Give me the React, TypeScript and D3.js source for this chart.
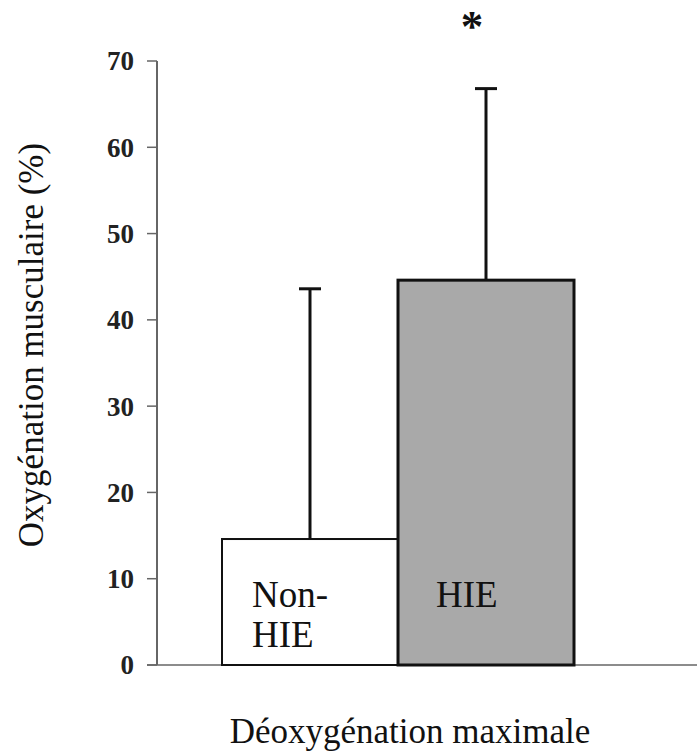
import React from "react";
import * as d3 from "d3";

const categories = ["Non-HIE", "HIE"];
const meanValues = [14.6, 44.6];
const sdValues = [29.0, 22.2];
const barFills = ["#ffffff", "#a9a9a9"];
const barLabels = [["Non-", "HIE"], ["HIE"]];
const yTicks = [0, 10, 20, 30, 40, 50, 60, 70];

const W = 697;
const H = 753;
const SERIF = "Liberation Serif";

export default function App() {
  const y = d3.scaleLinear().domain([0, 70]).range([665, 61]);
  const x = d3.scaleBand().domain(categories).range([222, 574]).padding(0);
  const axisX = 157;
  const ts = { fontFamily: SERIF } as React.CSSProperties;

  return (
    <svg
      width={W}
      height={H}
      style={{ position: "absolute", left: 0, top: 0, background: "#fff" }}
    >
      <line x1={147} x2={697} y1={y(0)} y2={y(0)} stroke="#666" strokeWidth={1.5} />
      <line x1={axisX} x2={axisX} y1={y(70)} y2={y(0)} stroke="#666" strokeWidth={2} />
      {yTicks.map((t) => (
        <g key={t}>
          <line x1={axisX - 10} x2={axisX} y1={y(t)} y2={y(t)} stroke="#666" strokeWidth={1.5} />
          <text
            x={134}
            y={y(t)}
            dy="0.35em"
            textAnchor="end"
            fontSize={27}
            fontWeight="bold"
            fill="#222"
            style={ts}
          >
            {t}
          </text>
        </g>
      ))}
      {categories.map((c, i) => {
        const bx = x(c)!;
        const bw = x.bandwidth();
        const cx = bx + bw / 2;
        const top = y(meanValues[i]);
        const errTop = y(meanValues[i] + sdValues[i]);
        return (
          <g key={c}>
            <line x1={cx} x2={cx} y1={top} y2={errTop} stroke="#111" strokeWidth={3} />
            <line x1={cx - 11} x2={cx + 11} y1={errTop} y2={errTop} stroke="#111" strokeWidth={3} />
            <rect
              x={bx}
              y={top}
              width={bw}
              height={y(0) - top}
              fill={barFills[i]}
              stroke="#111"
              strokeWidth={i === 0 ? 2 : 3}
            />
            {barLabels[i].map((l, j) => (
              <text
                key={j}
                x={bx + (i === 0 ? 30 : 38)}
                y={607 + j * 40}
                fontSize={37}
                fill="#111"
                style={ts}
              >
                {l}
              </text>
            ))}
          </g>
        );
      })}
      <text x={472} y={41} textAnchor="middle" fontSize={45} fontWeight="bold" fill="#111" style={ts}>
        *
      </text>
      <text
        transform={`translate(43, 345) rotate(-90)`}
        textAnchor="middle"
        fontSize={35}
        fill="#111"
        style={ts}
      >
        Oxygénation musculaire (%)
      </text>
      <text x={410} y={743} textAnchor="middle" fontSize={35} fill="#111" style={ts}>
        Déoxygénation maximale
      </text>
    </svg>
  );
}
